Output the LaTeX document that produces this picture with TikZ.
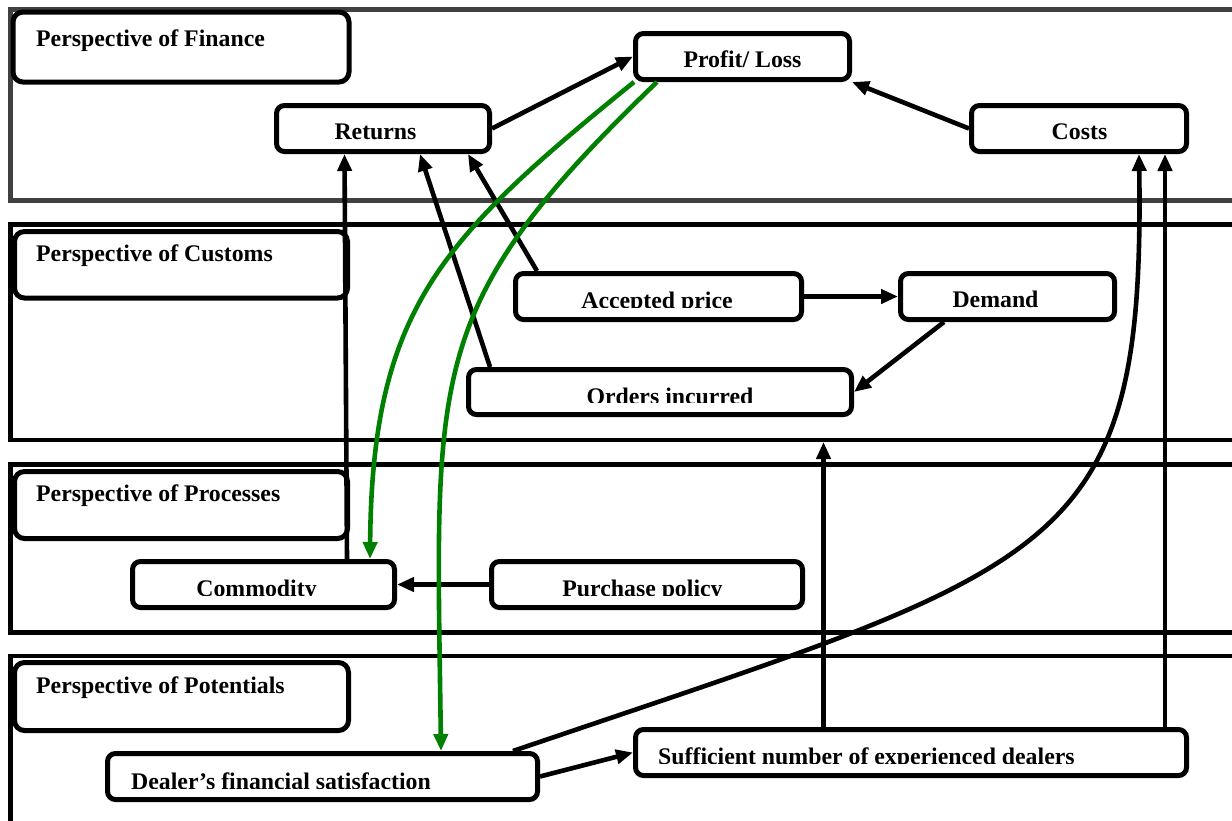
\documentclass[tikz,border=0pt]{standalone}
\usepackage{fontspec}
\setmainfont{Liberation Serif}
\usetikzlibrary{arrows.meta}
\definecolor{arrowgreen}{RGB}{0,128,0}
\definecolor{framegrey}{RGB}{64,64,64}
\begin{document}
\begin{tikzpicture}[x=1pt,y=-1pt,
  panel/.style={draw=black, line width=4.5pt},
  titlebox/.style={draw=black, fill=white, line width=5pt, rounded corners=10pt, inner sep=0pt, anchor=north west},
  box/.style={draw=black, fill=white, line width=5pt, rounded corners=8pt, inner sep=0pt, minimum height=46pt},
  lab/.style={inner sep=0pt, font=\fontsize{23.8}{28}\selectfont\bfseries},
  arr/.style={line width=4.6pt, -{Triangle[length=17pt,width=14pt]}},
  garr/.style={draw=arrowgreen, line width=4.6pt, -{Triangle[length=17pt,width=14pt]}},
]
\useasboundingbox (0,0) rectangle (1232,820);
\clip (0,0) rectangle (1232,820);
\fill[white] (0,0) rectangle (1232,820);

% the four perspective bands
\draw[panel, draw=framegrey, line width=5pt] (1260,9.5) -- (10.5,9.5) -- (10.5,200.5) -- (1260,200.5);
\draw[panel] (1260,224.5) -- (10.5,224.5) -- (10.5,440) -- (1260,440);
\draw[panel] (1260,464.5) -- (10.5,464.5) -- (10.5,632.5) -- (1260,632.5);
\draw[panel] (1260,656) -- (10.5,656) -- (10.5,840);

% band titles
\node[titlebox, minimum width=336pt, minimum height=70pt] (tfin) at (10.5,9.5) {};
\node[titlebox, minimum width=333pt, minimum height=66.5pt] (tcus) at (12,229) {};
\node[titlebox, minimum width=333pt, minimum height=67pt] (tpro) at (12,469) {};
\node[titlebox, minimum width=334pt, minimum height=68pt] (tpot) at (12,660) {};
\node[lab, anchor=base west] (tfin-t) at (36,46) {Perspective of Finance};
\node[lab, anchor=base west] (tcus-t) at (36,261) {Perspective of Customs};
\node[lab, anchor=base west] (tpro-t) at (36,501) {Perspective of Processes};
\node[lab, anchor=base west] (tpot-t) at (36,693) {Perspective of Potentials};

% boxes
\node[box, minimum width=213pt] (ret)  at (383,128.5) {};
\node[box, minimum width=214pt] (prof) at (742.5,56.5) {};
\node[box, minimum width=215pt] (cost) at (1079,128.5) {};
\node[box, minimum width=286pt] (acc)  at (658.5,296.5) {};
\node[box, minimum width=214pt] (dem)  at (1007.5,296.5) {};
\node[box, minimum width=383pt, minimum height=45pt] (ord) at (660,392) {};
\node[box, minimum width=262pt] (com)  at (263.5,584.5) {};
\node[box, minimum width=311pt] (pur)  at (647,584.5) {};
\node[box, minimum width=430pt] (deal) at (322.5,776.5) {};
\node[box, minimum width=551pt] (suff) at (911,752.5) {};

% box texts
\node[lab, anchor=base] (ret-t)  at (375.5,139) {Returns};
\node[lab, anchor=base] (prof-t) at (742.5,67) {Profit/ Loss};
\node[lab, anchor=base] (cost-t) at (1079.5,139) {Costs};
\node[lab, anchor=base] (dem-t)  at (995.5,307) {Demand};
\begin{scope}
  \clip (513,271) rectangle (804,307.5);
  \node[lab, anchor=base] (acc-t) at (657,308) {Accepted price};
\end{scope}
\begin{scope}
  \clip (466,367) rectangle (854,402.5);
  \node[lab, anchor=base] (ord-t) at (670,404) {Orders incurred};
\end{scope}
\begin{scope}
  \clip (130,559) rectangle (397,595.5);
  \node[lab, anchor=base] (com-t) at (256.5,596) {Commodity};
\end{scope}
\begin{scope}
  \clip (489,559) rectangle (805,595.5);
  \node[lab, anchor=base] (pur-t) at (642.5,596) {Purchase policy};
\end{scope}
\begin{scope}
  \clip (105,751) rectangle (540,788.5);
  \node[lab, anchor=base west] (deal-t) at (131,789) {Dealer’s financial satisfaction};
\end{scope}
\begin{scope}
  \clip (633,727) rectangle (1189,763.5);
  \node[lab, anchor=base west] (suff-t) at (658,764) {Sufficient number of experienced dealers};
\end{scope}

% black connectors
\draw[arr] (ret.east) -- (prof.west);
\draw[arr] (cost.west) -- (prof.south east);
\draw[arr] ([xshift=83.5pt]com.north) -- ([xshift=70.5pt]ret.south west);
\draw[arr] ([xshift=24pt]ord.north west) -- ([xshift=146pt]ret.south west);
\draw[arr] ([xshift=24pt]acc.north west) -- ([xshift=194pt]ret.south west);
\draw[arr] (acc.east) -- (dem.west);
\draw[arr] ([xshift=46pt]dem.south west) -- (ord.east);
\draw[arr] (pur.west) -- (com.east);
\coordinate (s1) at ([xshift=190.5pt]suff.north west);
\path (ord.south) ++(0,25) coordinate (ordbelow);
\draw[arr] (s1) -- (s1 |- ordbelow);
\draw[arr] ([xshift=-24pt]suff.north east) -- ([xshift=-24pt]cost.south east);
\draw[arr] (deal.east) -- (suff.west);
\draw[arr] ([xshift=408pt]deal.north west)
  .. controls (1060,565) and (1145,560) .. ([xshift=170pt]cost.south west);

% green connectors
\draw[garr] ([xshift=1pt]prof.south west)
  .. controls (442,238) and (372,308) .. ([xshift=240pt]com.north west);
\draw[garr] ([xshift=24pt]prof.south west)
  .. controls (422,308) and (436,371) .. ([xshift=336pt]deal.north west);
\end{tikzpicture}
\end{document}
